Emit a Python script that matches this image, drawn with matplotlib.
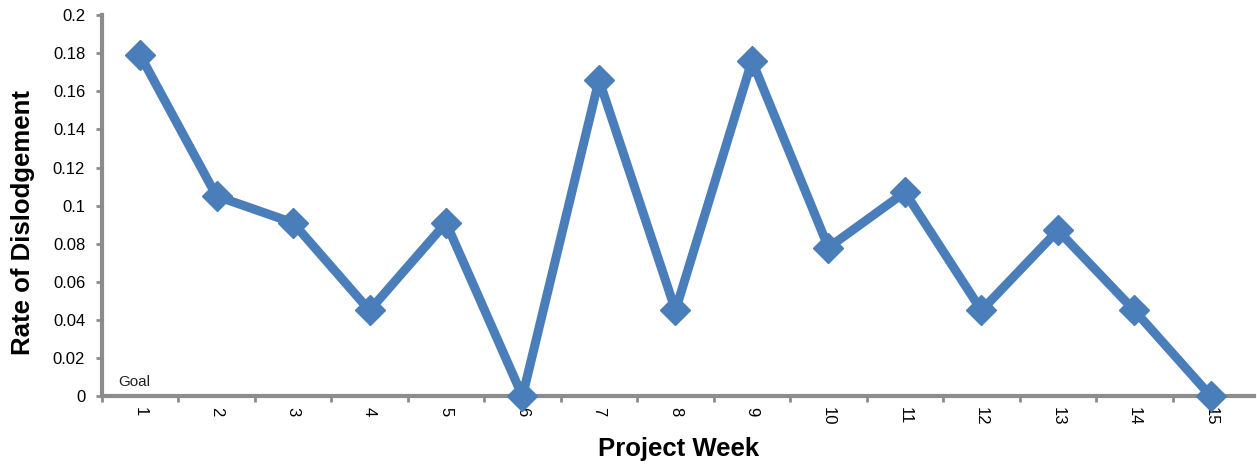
import matplotlib.pyplot as plt
import numpy as np

weeks = list(range(1, 16))
week_labels = [str(w) for w in weeks]
rate = [0.179, 0.105, 0.091, 0.045, 0.091, 0.0, 0.166, 0.045,
        0.176, 0.078, 0.107, 0.045, 0.087, 0.045, 0.0]
goal = [0.0] * len(weeks)

plt.rcParams['font.family'] = ['Liberation Sans', 'DejaVu Sans']

fig = plt.figure(figsize=(12.57, 4.70), dpi=100)
ax = fig.add_axes([0.081, 0.157, 0.917, 0.811])

grey = '#8c8c8c'
blue = '#4a7ebb'

ax.plot(weeks, goal, color='#8db255', lw=2.5, zorder=2)
ax.plot(weeks, rate, color=blue, lw=6.5, marker='D', markersize=15,
        markeredgecolor=blue, zorder=3, clip_on=False)
ax.text(0.71, 0.004, 'Goal', fontsize=11, ha='left', va='bottom', color='#222222')

ax.set_xlim(0.5, 15.57)
ax.set_ylim(0, 0.2)
ax.set_yticks(np.arange(0, 0.201, 0.02))
ax.set_yticklabels(['0', '0.02', '0.04', '0.06', '0.08', '0.1', '0.12',
                    '0.14', '0.16', '0.18', '0.2'], fontsize=12)

ax.set_xticks(weeks)
ax.set_xticklabels(week_labels, rotation=270, fontsize=12)
ax.set_xticks(np.arange(0.5, 15.0, 1.0), minor=True)
ax.tick_params(axis='x', which='major', length=0, pad=8)
ax.tick_params(axis='x', which='minor', length=4, width=2, color=grey)
ax.tick_params(axis='y', length=4, width=2, color=grey, pad=8)

for side in ('top', 'right'):
    ax.spines[side].set_visible(False)
for side in ('left', 'bottom'):
    ax.spines[side].set_color(grey)
    ax.spines[side].set_linewidth(3)

ax.set_xlabel('Project Week', fontsize=18.5, fontweight='bold', labelpad=8)
ax.set_ylabel('Rate of Dislodgement', fontsize=18.5, fontweight='bold')
ax.yaxis.set_label_coords(-0.058, 0.455)

fig.savefig('out.png', dpi=100)
